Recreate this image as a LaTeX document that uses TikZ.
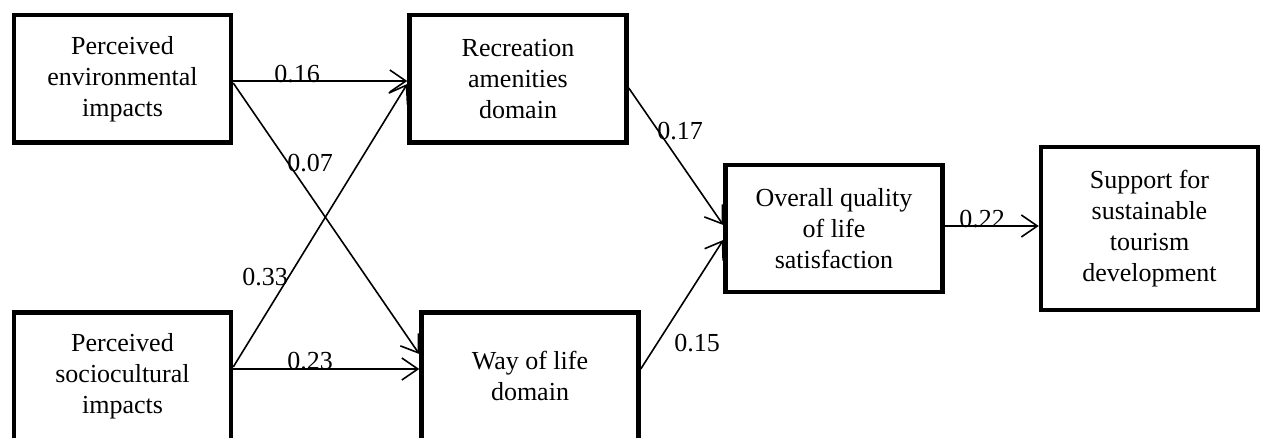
\documentclass[tikz,border=0pt]{standalone}
\usepackage{fontspec}
\setmainfont{Liberation Serif}
\usetikzlibrary{arrows.meta}
\begin{document}
\begin{tikzpicture}[x=1pt,y=1pt,
  box/.style={draw, line width=4.5pt, minimum width=217pt, minimum height=127.5pt,
    align=center, inner sep=0pt, font=\fontsize{26}{31}\selectfont},
  link/.style={line width=1.6pt, -{Straight Barb[length=16pt,width=22pt]}},
  coef/.style={inner sep=0pt, font=\fontsize{26}{31}\selectfont}]
\useasboundingbox (0,0) rectangle (1261,437);
\node[box] (A) at (122.5,358) {Perceived\\environmental\\impacts};
\node[box] (B) at (518,358) {Recreation\\amenities\\domain};
\node[box] (C) at (122.5,61) {Perceived\\sociocultural\\impacts};
\node[box] (D) at (530,61) {Way of life\\domain};
\node[box, minimum height=126.5pt] (E) at (834,208.5) {Overall quality\\of life\\satisfaction};
\node[box, minimum height=162.5pt] (F) at (1149.5,208.5) {Support for\\sustainable\\tourism\\development};
\draw[link] ([yshift=-2pt]A.east) -- ([yshift=-2pt]B.west);
\draw[link] ([yshift=-4pt]A.east) -- ([yshift=22pt]D.west);
\draw[link] ([yshift=9pt]C.east) -- ([yshift=-5pt]B.west);
\draw[link] ([yshift=7pt]C.east) -- ([yshift=7pt]D.west);
\draw[link] ([yshift=-9pt]B.east) -- ([yshift=3.5pt]E.west);
\draw[link] ([yshift=7pt]D.east) -- ([yshift=-11.5pt]E.west);
\draw[link] ([yshift=2.5pt]E.east) -- ([yshift=2.5pt]F.west);
\node[coef] (l1) at (297,363) {0.16};
\node[coef] (l2) at (310,274) {0.07};
\node[coef] (l3) at (265,160) {0.33};
\node[coef] (l4) at (310,76) {0.23};
\node[coef] (l5) at (680,306) {0.17};
\node[coef] (l6) at (697,94) {0.15};
\node[coef] (l7) at (982,218) {0.22};
\end{tikzpicture}
\end{document}
